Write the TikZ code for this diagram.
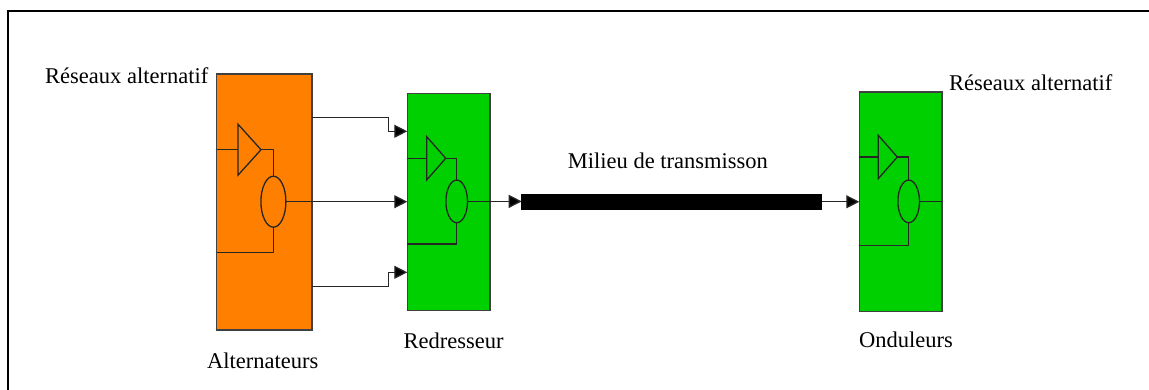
\documentclass[tikz,border=0pt]{standalone}
\usepackage{fontspec}
\setmainfont{Liberation Serif}
\usetikzlibrary{arrows.meta,shapes.geometric}
\definecolor{orangebox}{HTML}{FF8000}
\definecolor{greenbox}{HTML}{00D000}
\tikzset{
  x=1pt,y=-1pt,
  block/.style={draw=black!75,line width=1.3pt,inner sep=0pt,outer sep=0pt,anchor=north west},
  wire/.style={draw=black!85,line width=1.3pt},
  flow/.style={wire,-{Triangle[length=13pt,width=13pt,fill=black]}},
  amp/.style={draw=black!85,line width=1.3pt,isosceles triangle,isosceles triangle stretches,inner sep=0pt,outer sep=0pt,anchor=apex},
  coil/.style={draw=black!85,line width=1.3pt,ellipse,inner sep=0pt,outer sep=0pt},
  txt/.style={font=\fontsize{22.5}{26}\selectfont,inner sep=0pt,anchor=base west,text=black},
}
\begin{document}
\begin{tikzpicture}
\useasboundingbox (0,0) rectangle (1149,390);
\fill[white] (0,0) rectangle (1149,390);
\coordinate (frameBL) at (8,390);
\coordinate (frameTL) at (8,11.5);
\coordinate (frameTR) at (1149,11.5);
\draw[line width=2pt,black] (frameBL) -- (frameTL) -- (frameTR);

% Blocks
\node[block,fill=orangebox,minimum width=95.3pt,minimum height=256pt] (alt) at (216.7,74) {};
\node[block,fill=greenbox,minimum width=82.7pt,minimum height=217pt] (red) at (407.3,93.3) {};
\node[block,fill=greenbox,minimum width=82.7pt,minimum height=219.7pt] (ond) at (859.3,92) {};

% Transmission bar
\node[block,fill=black,draw=black,minimum width=300pt,minimum height=15pt] (bar) at (521.7,194.3) {};

% Alternator internals
\node[amp,minimum height=23pt,minimum width=51pt] (atri) at (261,149.7) {};
\node[coil,minimum width=25pt,minimum height=51pt] (aell) at (273.4,201.7) {};
\coordinate (aret) at (216.7,252.7);
\draw[wire] (alt.west |- atri.lower side) -- (atri.lower side);
\draw[wire] (atri.apex) -| (aell.north);
\draw[wire] (aell.south) |- (aret);

% Rectifier internals
\node[amp,minimum height=19pt,minimum width=43.3pt] (rtri) at (445.7,158.3) {};
\node[coil,minimum width=21.6pt,minimum height=42.7pt] (rell) at (456.7,201.4) {};
\coordinate (rret) at (407.3,244);
\draw[wire] (red.west |- rtri.lower side) -- (rtri.lower side);
\draw[wire] (rtri.apex) -| (rell.north);
\draw[wire] (rell.south) |- (rret);

% Inverter internals
\node[amp,minimum height=19pt,minimum width=43.3pt] (otri) at (897.3,157) {};
\node[coil,minimum width=21.6pt,minimum height=42.7pt] (oell) at (908.7,201.4) {};
\coordinate (oret) at (859.3,245.7);
\draw[wire] (ond.west |- otri.lower side) -- (otri.lower side);
\draw[wire] (otri.apex) -| (oell.north);
\draw[wire] (oell.south) |- (oret);
\draw[wire] (oell.east) -- (oell.east -| ond.east);

% Connectors
\coordinate (aup) at (312,117.3);
\coordinate (bup) at (388.3,117.3);
\coordinate (rup) at (407.3,131.3);
\coordinate (alo) at (312,286.7);
\coordinate (blo) at (388.3,286.7);
\coordinate (rlo) at (407.3,272.3);
\draw[flow] (aup) -- (bup) |- (rup);
\draw[flow] (alo) -- (blo) |- (rlo);
\draw[flow] (aell.east) -- (aell.east -| red.west);
\draw[flow] (rell.east) -- (rell.east -| bar.west);
\draw[flow] (bar.east) -- (bar.east -| ond.west);

% Labels
\node[txt] (l1) at (45,84) {Réseaux alternatif};
\node[txt] (l2) at (949,91) {Réseaux alternatif};
\node[txt] (l3) at (207,368.5) {Alternateurs};
\node[txt] (l4) at (403.5,348) {Redresseur};
\node[txt] (l5) at (859,347.5) {Onduleurs};
\node[txt] (l6) at (567.7,169) {Milieu de transmisson};
\end{tikzpicture}
\end{document}
